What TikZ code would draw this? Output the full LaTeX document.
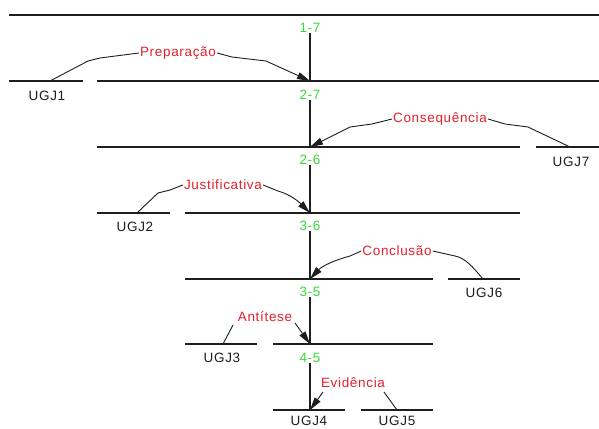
\documentclass[tikz,border=0pt]{standalone}
\usepackage{fontspec}
\setmainfont{Liberation Sans}
\newfontfamily\labfont[LetterSpace=5]{Liberation Sans}
\usetikzlibrary{arrows.meta}
\definecolor{spangreen}{RGB}{60,215,60}
\definecolor{relred}{RGB}{228,32,44}
\definecolor{ink}{RGB}{30,30,30}
\tikzset{
  seg/.style={line width=1.2pt, draw=ink},
  span/.style={text=spangreen, font=\labfont\fontsize{13.5}{14}\selectfont, inner sep=0.5pt},
  unit/.style={text=ink, font=\labfont\fontsize{13.5}{14}\selectfont, inner sep=0.5pt},
  rel/.style={text=relred, font=\labfont\fontsize{13.5}{14}\selectfont, inner sep=1pt},
  link/.style={line width=0.9pt, draw=ink},
  relarrow/.style={link, -{Triangle[length=13pt,width=7pt,fill=ink]}}
}
\begin{document}
\begin{tikzpicture}[x=1pt,y=-1pt]
  \useasboundingbox (0,0) rectangle (599,428);
  \fill[white] (0,0) rectangle (599,428);

  % junction points on the spine
  \coordinate (j1) at (310,81);
  \coordinate (j2) at (310,147);
  \coordinate (j3) at (310,213);
  \coordinate (j4) at (310,279);
  \coordinate (j5) at (310,344);
  \coordinate (j6) at (310,410);

  % attachment points of the units
  \coordinate (u1) at (50,81);
  \coordinate (u7) at (570,147);
  \coordinate (u2) at (137,213);
  \coordinate (u6) at (483,279);
  \coordinate (u3) at (223,344);
  \coordinate (u5) at (397,410);

  % horizontal segments
  \draw[seg] (9,15) -- (599,15);
  \draw[seg] (9,81) -- (83,81);   \draw[seg] (97,81) -- (599,81);
  \draw[seg] (97,147) -- (520,147); \draw[seg] (536,147) -- (599,147);
  \draw[seg] (97,213) -- (170,213); \draw[seg] (185,213) -- (520,213);
  \draw[seg] (185,279) -- (433,279); \draw[seg] (448,279) -- (520,279);
  \draw[seg] (185,344) -- (257,344); \draw[seg] (273,344) -- (433,344);
  \draw[seg] (273,410) -- (345,410); \draw[seg] (361,410) -- (433,410);

  % span labels and spine
  \node[span] (s17) at (310,28)  {1-7};
  \node[span] (s27) at (310,95)  {2-7};
  \node[span] (s26) at (310,160) {2-6};
  \node[span] (s36) at (310,226) {3-6};
  \node[span] (s35) at (310,292) {3-5};
  \node[span] (s45) at (310,358) {4-5};
  \draw[seg] (s17.south) -- (j1);
  \draw[seg] (s27.south) -- (j2);
  \draw[seg] (s26.south) -- (j3);
  \draw[seg] (s36.south) -- (j4);
  \draw[seg] (s35.south) -- (j5);
  \draw[seg] (s45.south) -- (j6);

  % unit labels
  \node[unit] (ugj1) at (47,96)   {UGJ1};
  \node[unit] (ugj7) at (571,162) {UGJ7};
  \node[unit] (ugj2) at (135,227) {UGJ2};
  \node[unit] (ugj6) at (484,293) {UGJ6};
  \node[unit] (ugj3) at (222,358) {UGJ3};
  \node[unit] (ugj4) at (309,421) {UGJ4};
  \node[unit] (ugj5) at (397,421) {UGJ5};

  % relation labels
  \node[rel] (prep) at (178,53)  {Preparação};
  \node[rel] (cons) at (440,119) {Consequência};
  \node[rel] (just) at (223,185) {Justificativa};
  \node[rel] (conc) at (397,251) {Conclusão};
  \node[rel] (anti) at (265,317) {Antítese};
  \node[rel] (evid) at (353,383) {Evidência};

  % relation connectors
  \draw[link] (u1) -- (88,61) -- (100,58) -- (prep.west);
  \draw[relarrow] (prep.east) -- (232,57) -- (266,61) -- (j1);

  \draw[link] (u7) -- (528,127) -- (505,124) -- (cons.east);
  \draw[relarrow] (cons.west) -- (372,124) -- (350,127) -- (j2);

  \draw[link] (u2) -- (158,193) -- (170,190) -- (just.west);
  \draw[relarrow] (just.east) -- (278,191) .. controls (292,195) and (300,203) .. (j3);

  \draw[link] (u6) .. controls (472,266) and (465,258) .. (455,256) -- (conc.east);
  \draw[relarrow] (conc.west) -- (350,256) .. controls (335,260) and (322,266) .. (j4);

  \draw[link] (u3) -- (233,325);
  \draw[relarrow] (295,323) -- (j5);

  \draw[relarrow] (323,392) -- (j6);
  \draw[link] (u5) -- (384,392);
\end{tikzpicture}
\end{document}
